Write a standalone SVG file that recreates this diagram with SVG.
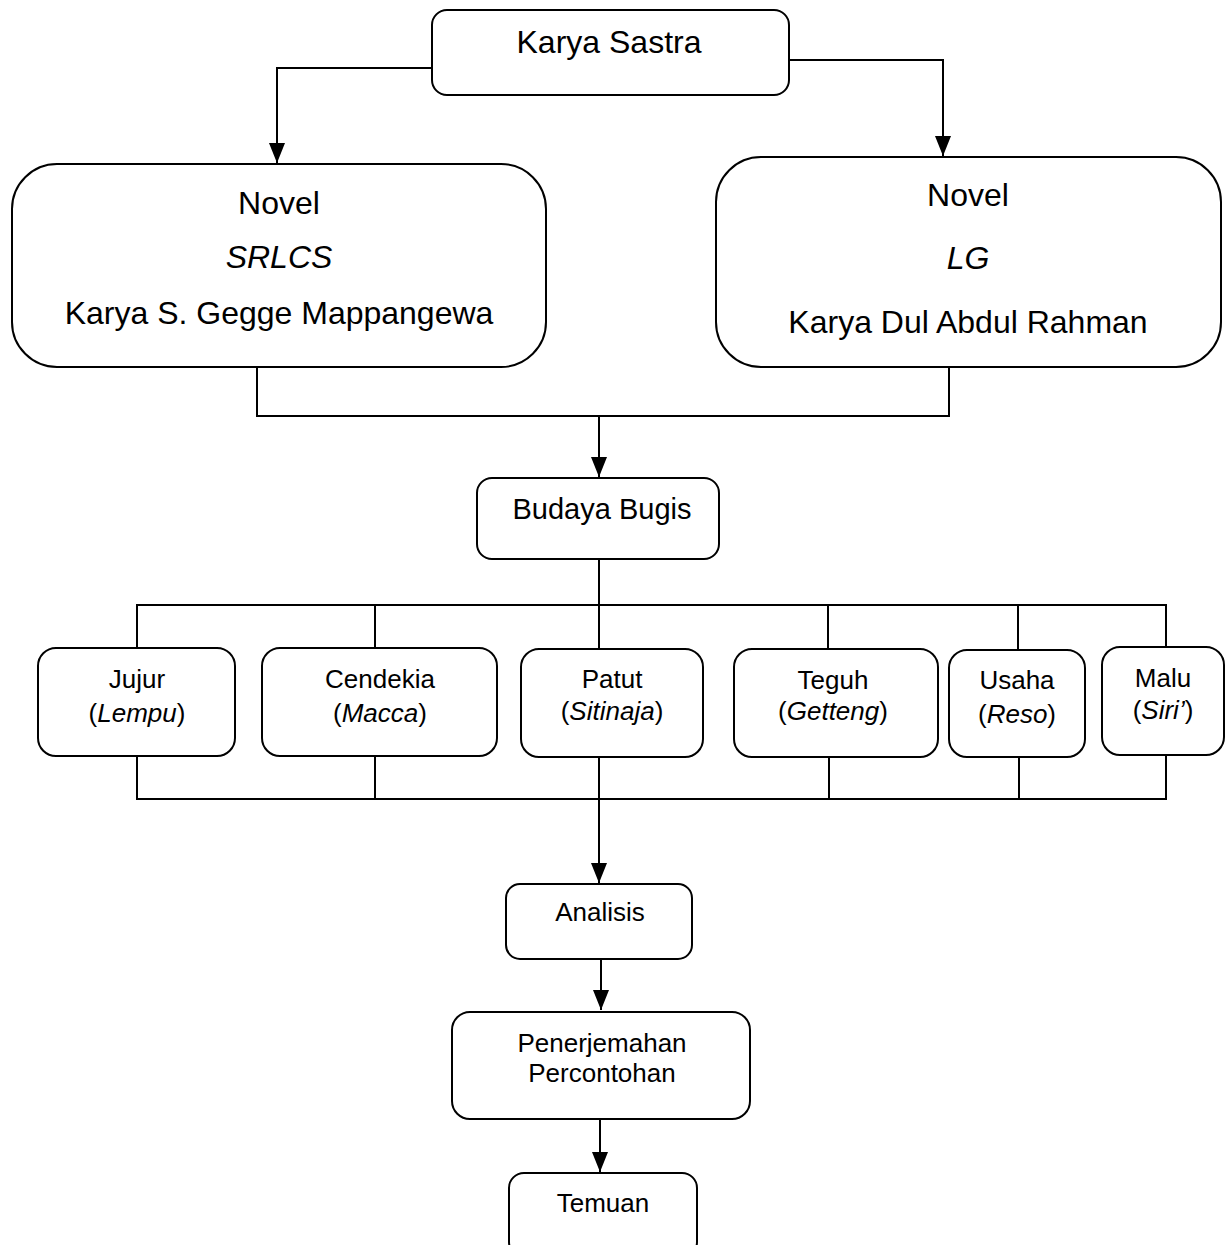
<svg xmlns="http://www.w3.org/2000/svg" width="1227" height="1245" viewBox="0 0 1227 1245">
<style>
.box{fill:#fff;stroke:#000;stroke-width:2}
.ln{fill:none;stroke:#000;stroke-width:2}
text{font-family:"Liberation Sans",Arial,sans-serif;fill:#000;text-anchor:middle}
.big{font-size:32px}
.mid{font-size:29px}
.sm{font-size:26px}
.i{font-style:italic}
</style>
<defs>
<marker id="ah" viewBox="0 0 20 16" refX="20" refY="8" markerWidth="20" markerHeight="16" markerUnits="userSpaceOnUse" orient="auto">
<path d="M0,0 L20,8 L0,16 Z" fill="#000"/>
</marker>
</defs>
<rect width="1227" height="1245" fill="#fff"/>
<g id="connectors">
<path class="ln" d="M432,68 H277 V163" marker-end="url(#ah)"/>
<path class="ln" d="M789,60 H943 V156" marker-end="url(#ah)"/>
<path class="ln" d="M257,367 V416 H949 V367"/>
<path class="ln" d="M599,416 V477" marker-end="url(#ah)"/>
<path class="ln" d="M599,559 V605"/>
<path class="ln" d="M137,648 V605 H1166 V647"/>
<path class="ln" d="M375,605 V648"/>
<path class="ln" d="M599,605 V649"/>
<path class="ln" d="M828,605 V649"/>
<path class="ln" d="M1018,605 V650"/>
<path class="ln" d="M137,756 V799 H1166 V755"/>
<path class="ln" d="M375,756 V799"/>
<path class="ln" d="M829,757 V799"/>
<path class="ln" d="M1019,757 V799"/>
<path class="ln" d="M599,757 V883" marker-end="url(#ah)"/>
<path class="ln" d="M601,959 V1010" marker-end="url(#ah)"/>
<path class="ln" d="M600,1119 V1172" marker-end="url(#ah)"/>
</g>
<g id="karya-sastra">
<rect class="box" x="432" y="10" width="357" height="85" rx="15"/>
<text class="big" x="609" y="53">Karya Sastra</text>
</g>
<g id="novel-srlcs">
<rect class="box" x="12" y="164" width="534" height="203" rx="45"/>
<text class="big" x="279" y="214">Novel</text>
<text class="big i" x="279" y="268">SRLCS</text>
<text class="big" x="279" y="324">Karya S. Gegge Mappangewa</text>
</g>
<g id="novel-lg">
<rect class="box" x="716" y="157" width="505" height="210" rx="45"/>
<text class="big" x="968" y="206">Novel</text>
<text class="big i" x="968" y="269">LG</text>
<text class="big" x="968" y="333">Karya Dul Abdul Rahman</text>
</g>
<g id="budaya-bugis">
<rect class="box" x="477" y="478" width="242" height="81" rx="15"/>
<text class="mid" x="602" y="519">Budaya Bugis</text>
</g>
<g id="jujur">
<rect class="box" x="38" y="648" width="197" height="108" rx="18"/>
<text class="sm" x="137" y="688">Jujur</text>
<text class="sm" x="137" y="722">(<tspan class="i">Lempu</tspan>)</text>
</g>
<g id="cendekia">
<rect class="box" x="262" y="648" width="235" height="108" rx="18"/>
<text class="sm" x="380" y="688">Cendekia</text>
<text class="sm" x="380" y="722">(<tspan class="i">Macca</tspan>)</text>
</g>
<g id="patut">
<rect class="box" x="521" y="649" width="182" height="108" rx="18"/>
<text class="sm" x="612" y="688">Patut</text>
<text class="sm" x="612" y="720">(<tspan class="i">Sitinaja</tspan>)</text>
</g>
<g id="teguh">
<rect class="box" x="734" y="649" width="204" height="108" rx="18"/>
<text class="sm" x="833" y="689">Teguh</text>
<text class="sm" x="833" y="720">(<tspan class="i">Getteng</tspan>)</text>
</g>
<g id="usaha">
<rect class="box" x="949" y="650" width="136" height="107" rx="18"/>
<text class="sm" x="1017" y="689">Usaha</text>
<text class="sm" x="1017" y="723">(<tspan class="i">Reso</tspan>)</text>
</g>
<g id="malu">
<rect class="box" x="1102" y="647" width="122" height="108" rx="18"/>
<text class="sm" x="1163" y="687">Malu</text>
<text class="sm" x="1163" y="719">(<tspan class="i">Siri’</tspan>)</text>
</g>
<g id="analisis">
<rect class="box" x="506" y="884" width="186" height="75" rx="14"/>
<text class="sm" x="600" y="921">Analisis</text>
</g>
<g id="penerjemahan">
<rect class="box" x="452" y="1012" width="298" height="107" rx="18"/>
<text class="sm" x="602" y="1052">Penerjemahan</text>
<text class="sm" x="602" y="1082">Percontohan</text>
</g>
<g id="temuan">
<rect class="box" x="509" y="1173" width="188" height="84" rx="15"/>
<text class="sm" x="603" y="1212">Temuan</text>
</g>
</svg>
